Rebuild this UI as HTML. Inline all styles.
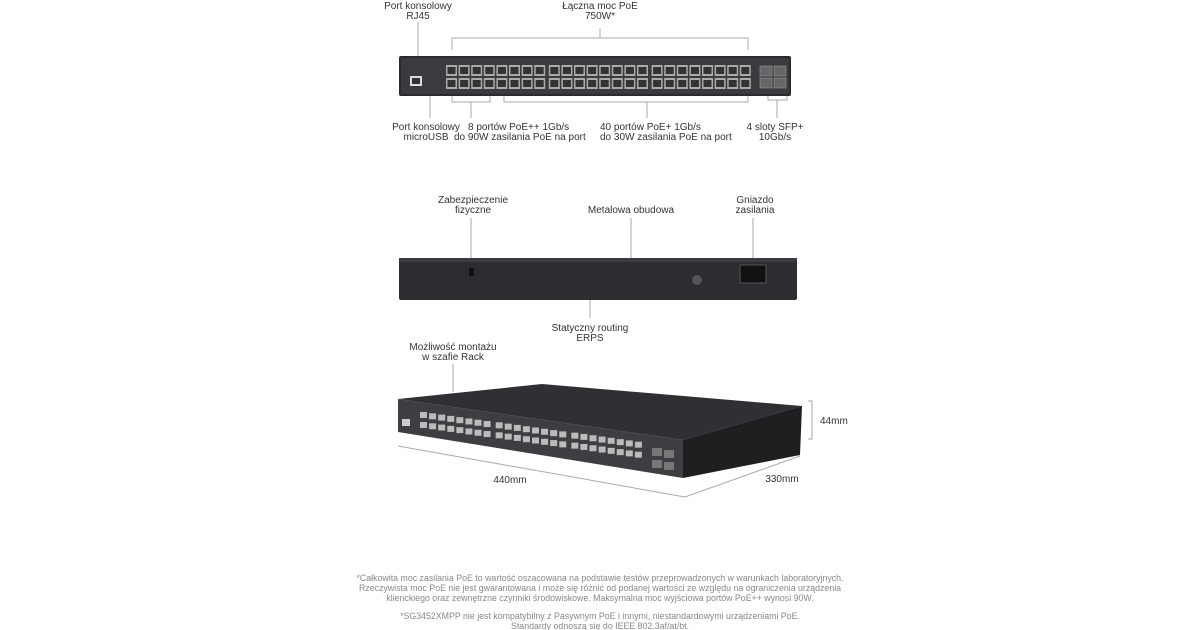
<!DOCTYPE html>
<html><head><meta charset="utf-8"><style>
html,body{margin:0;padding:0;background:#fff}
svg{display:block}
text{font-family:"Liberation Sans",sans-serif;font-size:10px;fill:#333}
.f{fill:#888;font-size:8.8px}
.l{stroke:#aaa;stroke-width:1;fill:none}
</style></head><body>
<svg id="s" width="1200" height="630" viewBox="0 0 1200 630" xmlns="http://www.w3.org/2000/svg">
<text x="418" y="9" text-anchor="middle">Port konsolowy</text>
<text x="418" y="19" text-anchor="middle">RJ45</text>
<text x="600" y="9" text-anchor="middle">Łączna moc PoE</text>
<text x="600" y="19" text-anchor="middle">750W*</text>
<path class="l" d="M418 22V60M452 50V38H748V50M600 38V28M452 90V102H490V90M471 102V118M504 90V102H748V90M647 102V118M768 88V100H787V88M777 100V118M430 90V118"/>
<rect x="399" y="56" width="392" height="40" rx="2" fill="#2a2b2d"/>
<rect x="401" y="58" width="388" height="36" fill="#3a3b3e"/>
<rect x="410" y="76" width="12" height="10" fill="#ddd"/><rect x="412" y="78" width="8" height="6" fill="#333"/>
<g id="ports"></g>
<text x="426" y="130" text-anchor="middle">Port konsolowy</text>
<text x="426" y="140" text-anchor="middle">microUSB</text>
<text x="468" y="130">8 portów PoE++ 1Gb/s</text>
<text x="454" y="140">do 90W zasilania PoE na port</text>
<text x="600" y="130">40 portów PoE+ 1Gb/s</text>
<text x="600" y="140">do 30W zasilania PoE na port</text>
<text x="775" y="130" text-anchor="middle">4 sloty SFP+</text>
<text x="775" y="140" text-anchor="middle">10Gb/s</text>
<text x="473" y="203" text-anchor="middle">Zabezpieczenie</text>
<text x="473" y="213" text-anchor="middle">fizyczne</text>
<text x="631" y="213" text-anchor="middle">Metalowa obudowa</text>
<text x="755" y="203" text-anchor="middle">Gniazdo</text>
<text x="755" y="213" text-anchor="middle">zasilania</text>
<path class="l" d="M471 218V270M631 218V258M753 218V265M590 300V318"/>
<rect x="399" y="258" width="398" height="42" rx="2" fill="#2c2d30"/>
<rect x="399" y="258" width="398" height="4" fill="#3c3d40"/>
<rect x="469" y="268" width="5" height="8" fill="#111"/>
<circle cx="697" cy="280" r="5" fill="#555"/>
<rect x="740" y="265" width="26" height="18" fill="#111" stroke="#555"/>
<text x="590" y="331" text-anchor="middle">Statyczny routing</text>
<text x="590" y="341" text-anchor="middle">ERPS</text>
<text x="453" y="350" text-anchor="middle">Możliwość montażu</text>
<text x="453" y="360" text-anchor="middle">w szafie Rack</text>
<path class="l" d="M453 364V392"/>
<polygon points="398,399 542,384 802,406 683,440" fill="#2f3033"/>
<polygon points="398,399 683,440 683,478 398,432" fill="#3d3e41"/>
<polygon points="683,440 802,406 800,455 683,478" fill="#1e1f21"/>
<g id="p3"></g>
<path class="l" d="M808 401H812V439H808M398 446L685 497L800 456"/>
<text x="820" y="424">44mm</text>
<text x="510" y="483" text-anchor="middle">440mm</text>
<text x="782" y="482" text-anchor="middle">330mm</text>
<text class="f" x="600" y="581" text-anchor="middle">*Całkowita moc zasilania PoE to wartość oszacowana na podstawie testów przeprowadzonych w warunkach laboratoryjnych.</text>
<text class="f" x="600" y="591" text-anchor="middle">Rzeczywista moc PoE nie jest gwarantowana i może się różnić od podanej wartości ze względu na ograniczenia urządzenia</text>
<text class="f" x="600" y="601" text-anchor="middle">klienckiego oraz zewnętrzne czynniki środowiskowe. Maksymalna moc wyjściowa portów PoE++ wynosi 90W.</text>
<text class="f" x="600" y="619" text-anchor="middle">*SG3452XMPP nie jest kompatybilny z Pasywnym PoE i innymi, niestandardowymi urządzeniami PoE.</text>
<text class="f" x="600" y="629" text-anchor="middle">Standardy odnoszą się do IEEE 802.3af/at/bt.</text>
</svg>
<script>
var g=document.getElementById("ports"),h="";
for(var i=0;i<24;i++){var x=446+i*12.6+Math.floor(i/8)*2;
h+='<rect x="'+x+'" y="65" width="11" height="11" fill="#aaa"/><rect x="'+(x+1.5)+'" y="67" width="8" height="7" fill="#333"/>';
h+='<rect x="'+x+'" y="78" width="11" height="11" fill="#aaa"/><rect x="'+(x+1.5)+'" y="80" width="8" height="7" fill="#333"/>';}
for(var j=0;j<2;j++)for(var k=0;k<2;k++)h+='<rect x="'+(760+j*14)+'" y="'+(66+k*12)+'" width="12" height="10" fill="#666" stroke="#999" stroke-width="0.6"/>';
g.innerHTML=h;
var g2=document.getElementById("p3"),h2="";
for(var i=0;i<24;i++){var t=i/24,x=420+t*218+Math.floor(i/8)*3,y=412+t*31;
h2+='<rect x="'+x+'" y="'+y+'" width="7" height="6" fill="#bbb"/><rect x="'+x+'" y="'+(y+10)+'" width="7" height="6" fill="#bbb"/>';}
for(var j=0;j<2;j++)for(var k=0;k<2;k++)h2+='<rect x="'+(652+j*12)+'" y="'+(448+k*12+j*2)+'" width="10" height="8" fill="#777"/>';
h2+='<rect x="402" y="419" width="8" height="7" fill="#ccc"/>';
g2.innerHTML=h2;
</script>
</body></html>
